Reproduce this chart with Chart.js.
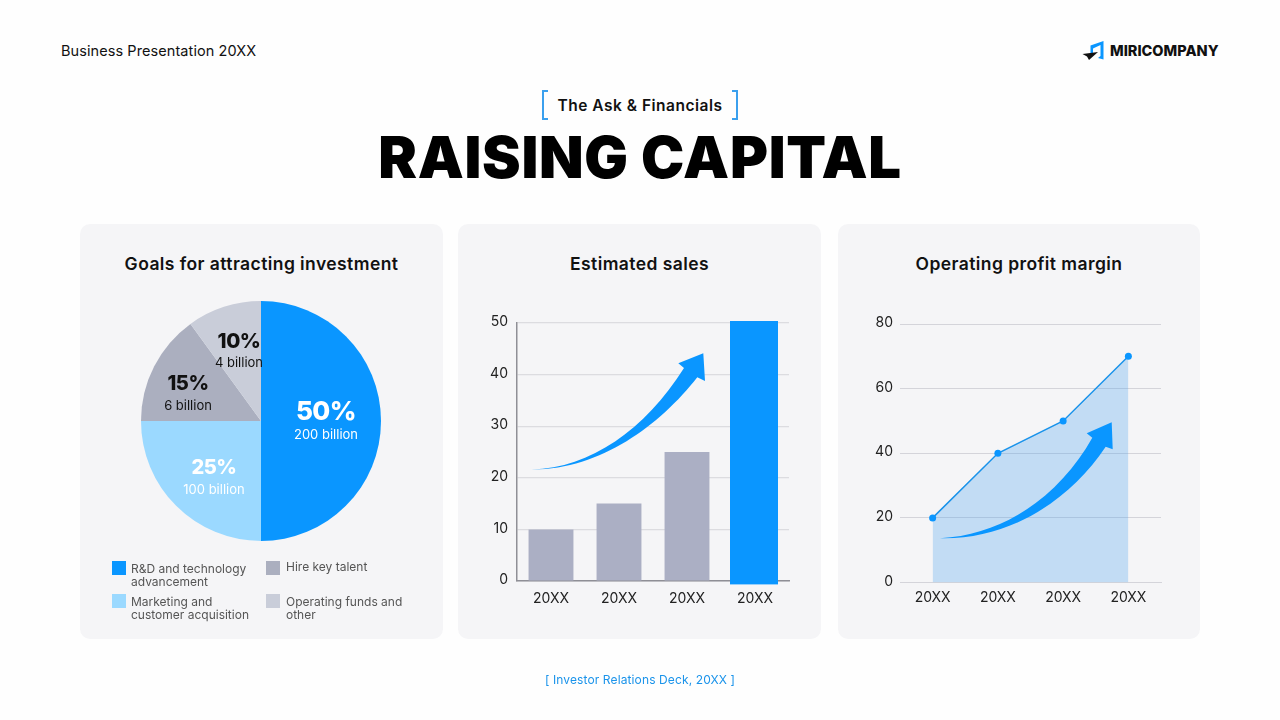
<!DOCTYPE html>
<html>
<head>
<meta charset="utf-8">
<title>Raising Capital</title>
<script src="https://cdn.jsdelivr.net/npm/chart.js@4"></script>
<style>
html, body { margin: 0; padding: 0; background: #fefefe; }
body { width: 1280px; height: 720px; position: relative; overflow: hidden; font-family: Inter, sans-serif; color: #000; }
.abs { position: absolute; white-space: nowrap; }
.card { position: absolute; top: 224px; height: 415px; background: #f5f5f7; border-radius: 10px; }
.cardTitle { position: absolute; top: 252px; text-align: center; font-size: 17.5px; font-weight: 600; line-height: 24px; color: #111; letter-spacing: 0.42px; }
canvas { position: absolute; }
svg { position: absolute; left: 0; top: 0; }
.pct { position: absolute; transform: translate(-50%, -50%); font-weight: 800; white-space: nowrap; letter-spacing: -0.5px; }
.amt { position: absolute; transform: translate(-50%, -50%); font-size: 13px; white-space: nowrap; }
.legText { position: absolute; font-size: 12px; line-height: 13px; color: #555; white-space: pre; }
.legBox { position: absolute; width: 14px; height: 14px; }
</style>
</head>
<body>

<div class="abs" style="left:61px;top:42px;font-size:14.5px;line-height:18px;color:#111;letter-spacing:0.08px">Business Presentation 20XX</div>
<div class="abs" style="left:1110px;top:42px;font-size:14.5px;line-height:18px;font-weight:800;color:#111">MIRICOMPANY</div>

<div class="abs" style="left:0;width:1280px;top:96px;text-align:center;font-size:15.5px;line-height:20px;font-weight:600;color:#111;letter-spacing:0.5px">The Ask &amp; Financials</div>
<div class="abs" style="left:0;width:1280px;top:122px;text-align:center;font-size:58px;line-height:70px;font-weight:900;color:#000;letter-spacing:0.7px">RAISING CAPITAL</div>

<div class="card" style="left:80px;width:363px"></div>
<div class="card" style="left:458px;width:363px"></div>
<div class="card" style="left:838px;width:362px"></div>

<div class="cardTitle" style="left:80px;width:363px">Goals for attracting investment</div>
<div class="cardTitle" style="left:458px;width:363px">Estimated sales</div>
<div class="cardTitle" style="left:838px;width:362px">Operating profit margin</div>

<canvas id="pieChart" width="260" height="260" style="left:131px;top:291px"></canvas>
<canvas id="barChart" width="360" height="320" style="left:460px;top:300px"></canvas>
<canvas id="lineChart" width="360" height="320" style="left:840px;top:300px"></canvas>

<!-- logo, brackets and the two decorative arrows -->
<svg width="1280" height="720" viewBox="0 0 1280 720">
  <path d="M1090.5 45.5 L1103.5 41 L1103.5 59.5 L1098 58 L1100.5 56 L1100.5 45 L1093 48.5 L1093 53 L1090.5 53 Z" fill="#0a96ff"/>
  <path d="M1082.5 54 L1098 52 L1089 60 L1087 56.5 Z" fill="#111"/>
  <path d="M548 91 L543 91 L543 119 L548 119" fill="none" stroke="#3ba0ee" stroke-width="2"/>
  <path d="M732 91 L737 91 L737 119 L732 119" fill="none" stroke="#3ba0ee" stroke-width="2"/>
  <path d="M532 469.5 C590 468 645 430 684 368 L678.3 363.3 L703.3 353.3 L705 381 L697.3 377.3 C660 425 600 470 532 469.5 Z" fill="#0a96ff"/>
  <path d="M940 538.3 C1005 535 1060 495 1092.3 437.7 L1086.7 433.3 L1111.7 422.3 L1112.7 449.3 L1105.7 446.7 C1070 500 1010 540 940 538.3 Z" fill="#0a96ff"/>
</svg>

<div id="pieLabels"></div>
<div id="legend"></div>

<div class="abs" style="left:0;width:1280px;top:672px;text-align:center;font-size:12px;line-height:16px;color:#1a93ea;letter-spacing:0.12px">[ Investor Relations Deck, 20XX ]</div>

<script>
// data
const pieCategories = ['R&D and technology\nadvancement', 'Marketing and\ncustomer acquisition', 'Hire key talent', 'Operating funds and\nother'];
const pieValues = [50, 25, 15, 10];
const pieAmounts = ['200 billion', '100 billion', '6 billion', '4 billion'];
const pieColors = ['#0a96ff', '#9bd9ff', '#abafbf', '#c9cdd9'];

const years = ['20XX', '20XX', '20XX', '20XX'];
const salesValues = [10, 15, 25, 50];
const salesColors = ['#abafc4', '#abafc4', '#abafc4', '#0a96ff'];
const marginValues = [20, 40, 50, 70];

Chart.defaults.font.family = 'Inter, sans-serif';
Chart.defaults.animation = false;
Chart.defaults.responsive = false;
Chart.defaults.plugins.legend.display = false;
Chart.defaults.plugins.tooltip.enabled = false;

// 1. Goals (Pie Chart)
new Chart(document.getElementById('pieChart').getContext('2d'), {
  type: 'pie',
  data: {
    labels: pieCategories,
    datasets: [{ data: pieValues, backgroundColor: pieColors, borderWidth: 0 }]
  },
  options: { layout: { padding: 10 } }
});

// slice labels, placed by hand like in the slide
const pieLabelStyle = [
  { x: 326, y: 410, ay: 434, size: 26, color: '#fff' },
  { x: 214, y: 467, ay: 489, size: 20, color: '#fff' },
  { x: 188, y: 383, ay: 405, size: 20, color: '#111' },
  { x: 239, y: 340, ay: 362, size: 20.5, color: '#111' }
];
let labelHtml = '';
pieValues.forEach((v, i) => {
  const s = pieLabelStyle[i];
  labelHtml += `<div class="pct" style="left:${s.x}px;top:${s.y}px;font-size:${s.size}px;color:${s.color}">${v}%</div>`;
  labelHtml += `<div class="amt" style="left:${s.x}px;top:${s.ay}px;color:${s.color}">${pieAmounts[i]}</div>`;
});
document.getElementById('pieLabels').innerHTML = labelHtml;

// legend
const legendSpots = [
  { x: 112, y: 561, ty: 562 }, { x: 112, y: 594, ty: 595 },
  { x: 266, y: 561, ty: 560 }, { x: 266, y: 594, ty: 595 }
];
let legendHtml = '';
pieCategories.forEach((c, i) => {
  const p = legendSpots[i];
  const textLeft = p.x + (p.x > 200 ? 20 : 19);
  legendHtml += `<div class="legBox" style="left:${p.x}px;top:${p.y}px;background:${pieColors[i]}"></div>`;
  legendHtml += `<div class="legText" style="left:${textLeft}px;top:${p.ty}px">${c.replace('&', '&amp;')}</div>`;
});
document.getElementById('legend').innerHTML = legendHtml;

// the blue bar sticks out of the plot a bit in the slide
const tallBarPlugin = {
  id: 'tallBar',
  afterDatasetsDraw(chart) {
    const bar = chart.getDatasetMeta(0).data[3];
    const ctx = chart.ctx;
    ctx.save();
    ctx.fillStyle = salesColors[3];
    ctx.fillRect(bar.x - 25, bar.y - 2, 48, bar.base - bar.y + 6);
    ctx.restore();
  }
};

// 2. Estimated sales (Bar Chart)
new Chart(document.getElementById('barChart').getContext('2d'), {
  type: 'bar',
  data: {
    labels: years,
    datasets: [{
      data: salesValues,
      backgroundColor: salesColors,
      categoryPercentage: 0.66,
      barPercentage: 1
    }]
  },
  options: {
    layout: { padding: { top: 23, right: 31 } },
    scales: {
      x: {
        afterFit: s => { s.height = 39; },
        grid: { display: false },
        border: { color: '#8f8f96', width: 1.5 },
        ticks: { color: '#222', font: { size: 14 }, padding: 1, maxRotation: 0 }
      },
      y: {
        min: 0,
        max: 50,
        afterFit: s => { s.width = 57; },
        grid: { color: '#dcdce0', lineWidth: 1.2, drawTicks: false },
        border: { color: '#8f8f96', width: 1.5 },
        ticks: { stepSize: 10, color: '#222', font: { size: 14 }, padding: 9, labelOffset: -1 }
      }
    }
  },
  plugins: [tallBarPlugin]
});

// 3. Operating profit margin (Line Chart)
new Chart(document.getElementById('lineChart').getContext('2d'), {
  type: 'line',
  data: {
    labels: years,
    datasets: [{
      data: marginValues,
      borderColor: '#1a93ea',
      borderWidth: 1.5,
      backgroundColor: 'rgba(75,161,240,0.3)',
      fill: 'origin',
      tension: 0,
      pointRadius: 3.5,
      pointBackgroundColor: '#0a96ff',
      pointBorderWidth: 0
    }]
  },
  options: {
    layout: { padding: { top: 24, right: 39 } },
    scales: {
      x: {
        offset: true,
        afterFit: s => { s.height = 37.5; },
        grid: { display: false },
        border: { color: '#d4d4da', width: 1 },
        ticks: { color: '#222', font: { size: 14 }, padding: -1, maxRotation: 0 }
      },
      y: {
        min: 0,
        max: 80,
        afterFit: s => { s.width = 60; },
        grid: { color: '#d4d4da', lineWidth: 1, drawTicks: false },
        border: { display: false },
        ticks: { stepSize: 20, color: '#222', font: { size: 14 }, padding: 7, labelOffset: -1 }
      }
    }
  }
});
</script>
</body>
</html>
